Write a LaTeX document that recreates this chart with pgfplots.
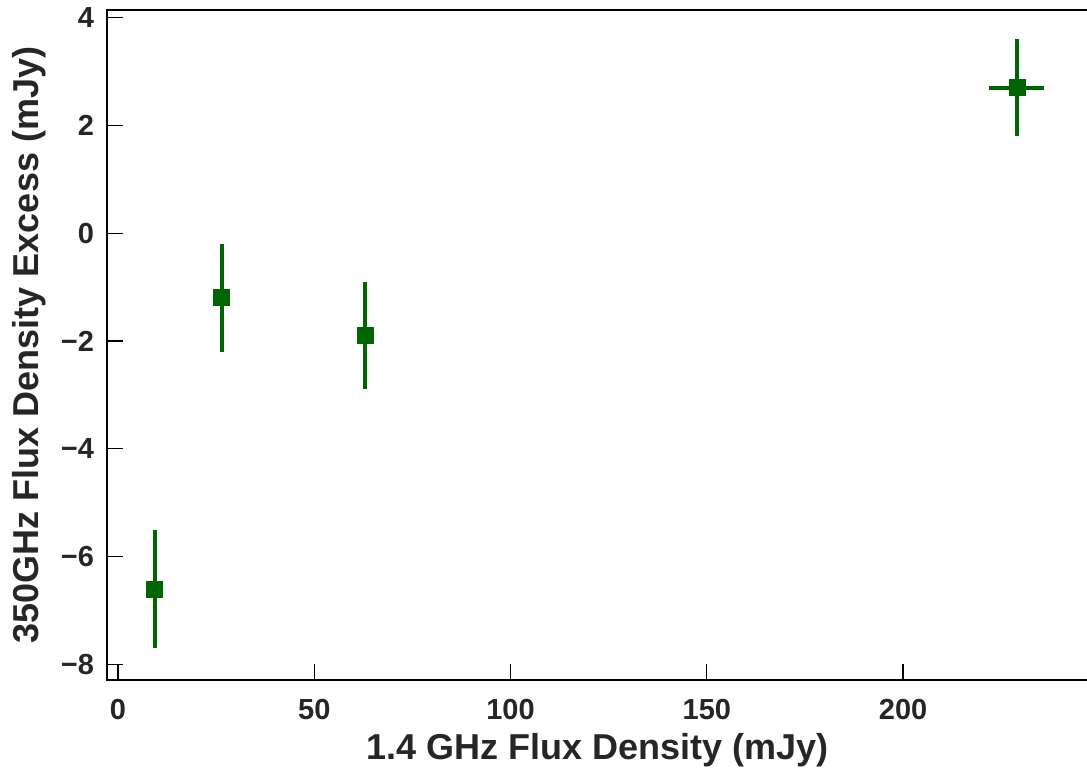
\documentclass[border=0pt]{standalone}
\usepackage{fontspec}
\setmainfont{Liberation Sans}
\usepackage{pgfplots}
\pgfplotsset{compat=1.18}
\definecolor{ptgreen}{HTML}{006400}
\definecolor{txt}{HTML}{262626}
\begin{document}
\begin{tikzpicture}
\begin{axis}[
  at={(0,0)}, anchor=south west,
  scale only axis,
  width=490.5pt, height=335pt,
  xmin=-2.8, xmax=247.1,
  ymin=-8.29, ymax=4.14,
  xtick={0,50,100,150,200},
  ytick={-8,-6,-4,-2,0,2,4},
  yticklabels={−8,−6,−4,−2,0,2,4},
  xtick pos=lower, ytick pos=left,
  tick align=inside,
  major tick length=8pt,
  tick style={black, line width=0.65pt},
  axis line style={black, line width=1.25pt},
  /pgf/number format/assume math mode=true,
  ticklabel style={font=\fontsize{14.5pt}{16pt}\selectfont\bfseries, text=txt},
  xticklabel style={yshift=-6pt},
  yticklabel style={xshift=-3pt},
  xlabel={1.4 GHz Flux Density (mJy)},
  ylabel={350GHz Flux Density Excess (mJy)},
  label style={font=\fontsize{18pt}{20pt}\selectfont\bfseries, text=txt},
  xlabel style={at={(axis description cs:0.5,0)}, anchor=base, yshift=-40pt},
  ylabel style={at={(axis description cs:-0.0703,0.5)}, anchor=base},
  clip=false,
]
\addplot[
  only marks, mark=square*, mark size=4pt, color=ptgreen,
  error bars/.cd,
    x dir=both, x explicit,
    y dir=both, y explicit,
    error mark=none,
    error bar style={line width=2pt, color=ptgreen},
] table[x=x, y=y, x error=ex, y error=ey] {
x     y     ex   ey
9.4   -6.6  0.0  1.1
26.4  -1.2  0.0  1.0
62.9  -1.9  2.0  1.0
229.0  2.7  7.0  0.9
};
\end{axis}
\pgfresetboundingbox
\path (-53.5pt,-45pt) rectangle (490pt,340pt);
\end{tikzpicture}
\end{document}
